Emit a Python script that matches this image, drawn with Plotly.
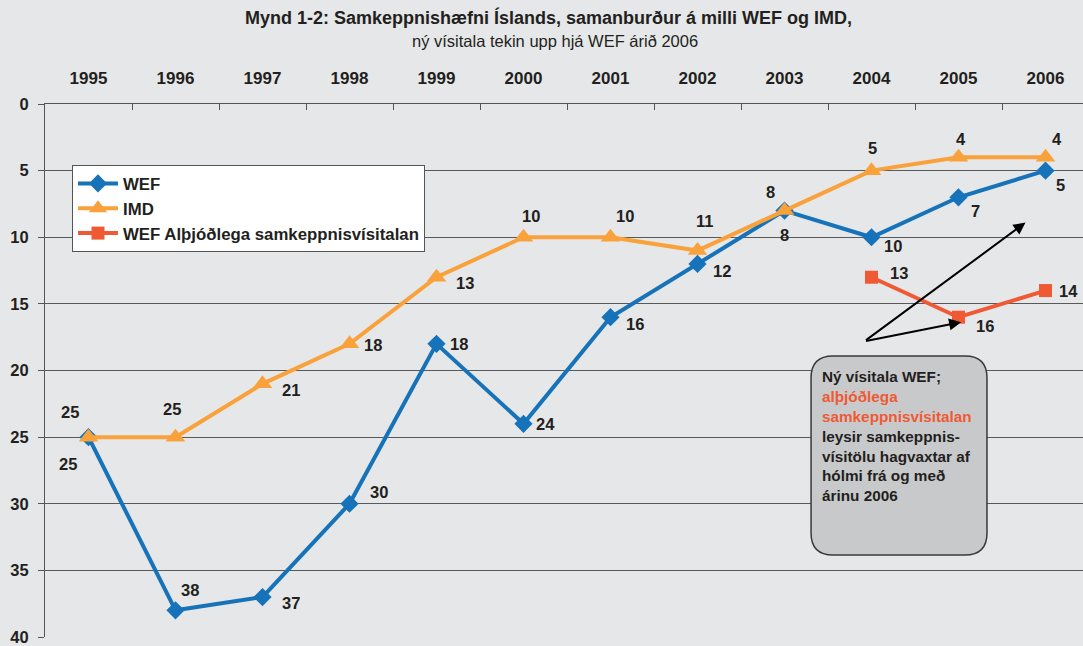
import plotly.graph_objects as go

years = ["1995", "1996", "1997", "1998", "1999", "2000", "2001", "2002", "2003", "2004", "2005", "2006"]
wef = [25, 38, 37, 30, 18, 24, 16, 12, 8, 10, 7, 5]
imd = [25, 25, 21, 18, 13, 10, 10, 11, 8, 5, 4, 4]
wef_new = [None, None, None, None, None, None, None, None, None, 13, 16, 14]

# label offsets in pixels (dx, dy up)
wef_off = [(-21, -27), (14, 20), (28, -6), (29, 12), (22, 0), (22, 0), (24, -7), (24, -7), (0, -24), (21, -9), (17, -14), (15, -14)]
imd_off = [(-19, 25), (-4, 28), (28, -6), (23, -1), (28, -6), (7, 21), (14, 21), (7, 30), (-14, 19), (1, 23), (2, 18), (11, 18)]
new_off = [None] * 9 + [(27, 4), (26, -9), (23, 0)]

C_WEF = "#1673b9"
C_IMD = "#f9a13a"
C_NEW = "#ef5a35"
FONT = "Liberation Sans, Arial, sans-serif"
TXT = "#231f20"

fig = go.Figure()
fig.add_trace(go.Scatter(x=years, y=wef, name="WEF", mode="lines+markers",
                         line=dict(color=C_WEF, width=4),
                         marker=dict(symbol="diamond", size=14, color=C_WEF)))
fig.add_trace(go.Scatter(x=years, y=imd, name="IMD", mode="lines+markers",
                         line=dict(color=C_IMD, width=4),
                         marker=dict(symbol="triangle-up", size=17, color=C_IMD)))
fig.add_trace(go.Scatter(x=years, y=wef_new, name="WEF Alþjóðlega samkeppnisvísitalan",
                         mode="lines+markers",
                         line=dict(color=C_NEW, width=4),
                         marker=dict(symbol="square", size=13, color=C_NEW)))

annotations = []
for vals, offs in ((wef, wef_off), (imd, imd_off), (wef_new, new_off)):
    for i, (yr, v) in enumerate(zip(years, vals)):
        if v is None:
            continue
        dx, dy = offs[i]
        annotations.append(dict(x=i, y=v, xref="x", yref="y", text=f"<b>{v}</b>",
                                showarrow=False, xshift=dx, yshift=dy,
                                font=dict(family=FONT, size=16.5, color=TXT)))

PH = 533.0  # plot height in px

def py(ypix):
    return 1 - (ypix - 104) / PH

# titles
annotations.append(dict(x=0.4846, y=py(18), xref="paper", yref="paper", showarrow=False,
                        text="<b>Mynd 1-2: Samkeppnishæfni Íslands, samanburður á milli WEF og IMD,</b>",
                        font=dict(family=FONT, size=18, color=TXT), xanchor="center", yanchor="middle"))
annotations.append(dict(x=0.4915, y=py(41), xref="paper", yref="paper", showarrow=False,
                        text="ný vísitala tekin upp hjá WEF árið 2006",
                        font=dict(family=FONT, size=16.5, color=TXT), xanchor="center", yanchor="middle"))

# arrows
annotations.append(dict(x=10.77, y=8.9, ax=8.92, ay=17.8, xref="x", yref="y", axref="x", ayref="y",
                        text="", showarrow=True, arrowhead=2, arrowsize=1.2, arrowwidth=2, arrowcolor="black"))
annotations.append(dict(x=10.03, y=16.37, ax=8.92, ay=17.8, xref="x", yref="y", axref="x", ayref="y",
                        text="", showarrow=True, arrowhead=2, arrowsize=1.2, arrowwidth=2, arrowcolor="black"))

# box text
box_text = ("<b>Ný vísitala WEF;<br>"
            f"<span style='color:{C_NEW}'>alþjóðlega</span><br>"
            f"<span style='color:{C_NEW}'>samkeppnisvísitalan</span><br>"
            "leysir samkeppnis-<br>vísitölu hagvaxtar af<br>hólmi frá og með<br>árinu 2006</b>")
annotations.append(dict(x=0.7467, y=py(366), xref="paper", yref="paper", text=box_text, showarrow=False,
                        xanchor="left", yanchor="top", align="left",
                        font=dict(family=FONT, size=15.3, color=TXT)))

# rounded box
x0, x1, yt, yb = 0.738, 0.9075, py(356), py(555)
rx, ry = 22 / 1038, 22 / PH
path = (f"M {x0+rx},{yt} L {x1-rx},{yt} Q {x1},{yt} {x1},{yt-ry} "
        f"L {x1},{yb+ry} Q {x1},{yb} {x1-rx},{yb} L {x0+rx},{yb} Q {x0},{yb} {x0},{yb+ry} "
        f"L {x0},{yt-ry} Q {x0},{yt} {x0+rx},{yt} Z")
shapes = [dict(type="path", path=path, xref="paper", yref="paper",
               fillcolor="#c8c9cb", line=dict(color="#3a3a3a", width=1.5), layer="above")]

fig.update_layout(
    width=1083, height=646,
    margin=dict(l=45, r=0, t=104, b=9, autoexpand=False),
    paper_bgcolor="#e6e7e8", plot_bgcolor="#e6e7e8",
    font=dict(family=FONT, color=TXT),
    annotations=annotations, shapes=shapes,
    showlegend=True,
    legend=dict(x=0.026, y=py(165), xanchor="left", yanchor="top",
                bgcolor="white", bordercolor="#555555", borderwidth=1,
                font=dict(family=FONT, size=16.8, color=TXT, weight="bold"),
                tracegroupgap=0, itemwidth=40),
    xaxis=dict(type="category", side="top", range=[-0.5, 11.431], automargin=False,
               tickson="boundaries", ticks="inside", ticklen=6, tickcolor="#555555",
               showgrid=False, showline=True, linecolor="#555555", zeroline=False,
               tickfont=dict(family=FONT, size=17, color=TXT, weight="bold"), ticklabelstandoff=12),
    yaxis=dict(range=[40, 0], tickvals=[0, 5, 10, 15, 20, 25, 30, 35, 40], automargin=False,
               ticks="outside", ticklen=6, tickcolor="#555555", ticklabeloverflow="allow",
               showgrid=True, gridcolor="#58595b", gridwidth=1,
               showline=True, linecolor="#555555", zeroline=False,
               tickfont=dict(family=FONT, size=16.5, color=TXT, weight="bold"), ticklabelstandoff=6),
)

fig.write_html("out.html", config={"displayModeBar": False},
               post_script="document.body.style.margin='0';document.body.style.overflow='hidden';")
